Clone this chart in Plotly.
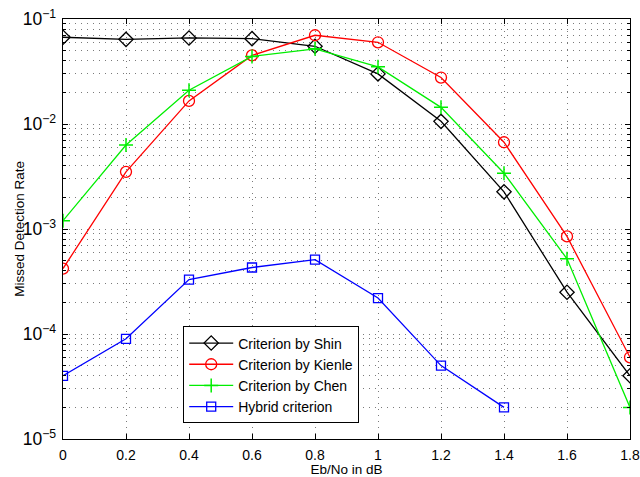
import plotly.graph_objects as go

x_vals = [0, 0.2, 0.4, 0.6, 0.8, 1.0, 1.2, 1.4, 1.6, 1.8]
shin = [0.067, 0.064, 0.066, 0.065, 0.055, 0.030, 0.0106, 0.00226, 0.00025, 0.00004]
kienle = [0.00042, 0.0035, 0.0166, 0.045, 0.070, 0.060, 0.0277, 0.0067, 0.00085, 0.00006]
chen = [0.0012, 0.0063, 0.021, 0.044, 0.052, 0.035, 0.0144, 0.0034, 0.00052, 0.00002]
hybrid_x = [0, 0.2, 0.4, 0.6, 0.8, 1.0, 1.2, 1.4]
hybrid = [0.00004, 0.00009, 0.00033, 0.00043, 0.00051, 0.00022, 0.00005, 0.00002]

x_ticks = [0, 0.2, 0.4, 0.6, 0.8, 1.0, 1.2, 1.4, 1.6, 1.8]
x_labels = ["0", "0.2", "0.4", "0.6", "0.8", "1", "1.2", "1.4", "1.6", "1.8"]

fig = go.Figure()
fig.add_trace(go.Scatter(x=x_vals, y=shin, mode="lines+markers", name="Criterion by Shin",
                         line=dict(color="black", width=1.3),
                         marker=dict(symbol="diamond-open", size=11, color="black", line=dict(width=1.3))))
fig.add_trace(go.Scatter(x=x_vals, y=kienle, mode="lines+markers", name="Criterion by Kienle",
                         line=dict(color="#ff0000", width=1.3),
                         marker=dict(symbol="circle-open", size=11, color="#ff0000", line=dict(width=1.3))))
fig.add_trace(go.Scatter(x=x_vals, y=chen, mode="lines+markers", name="Criterion by Chen",
                         line=dict(color="#00ee00", width=1.3),
                         marker=dict(symbol="cross-thin-open", size=10, color="#00ee00", line=dict(width=1.5, color="#00ee00"))))
fig.add_trace(go.Scatter(x=hybrid_x, y=hybrid, mode="lines+markers", name="Hybrid criterion",
                         line=dict(color="#0000ff", width=1.3),
                         marker=dict(symbol="square-open", size=9, color="#0000ff", line=dict(width=1.3))))

grid_color = "#7a7a7a"
grid_dash = "1px,5px"
fig.update_layout(
    width=640, height=477,
    margin=dict(l=63, r=10, t=19, b=38),
    paper_bgcolor="white", plot_bgcolor="white",
    font=dict(family="Liberation Sans, Arial, sans-serif", size=14, color="black"),
    showlegend=True,
    legend=dict(x=0.212, y=0.268, xanchor="left", yanchor="top",
                bgcolor="white", bordercolor="black", borderwidth=1,
                font=dict(size=14), tracegroupgap=0, itemwidth=44),
    xaxis=dict(range=[0, 1.8], tickvals=x_ticks, ticktext=x_labels,
               showline=True, linecolor="black", linewidth=1, mirror="ticks",
               ticks="inside", ticklen=5, tickcolor="black",
               showgrid=True, gridcolor=grid_color, griddash=grid_dash, gridwidth=1,
               zeroline=False, automargin=False, ticklabelstandoff=3,
               title=dict(text="Eb/No in dB", font=dict(size=13.5), standoff=6)),
    yaxis=dict(type="log", range=[-5, -1], dtick=1, exponentformat="power",
               showline=True, linecolor="black", linewidth=1, mirror="ticks",
               ticks="inside", ticklen=5, tickcolor="black",
               showgrid=True, gridcolor=grid_color, griddash=grid_dash, gridwidth=1,
               zeroline=False, automargin=False, ticklabelstandoff=3,
               minor=dict(dtick="D1", showgrid=True, gridcolor=grid_color, griddash=grid_dash,
                          ticks="inside", ticklen=3, tickcolor="black")),
    annotations=[dict(text="Missed Detection Rate", textangle=-90, showarrow=False,
                      xref="paper", yref="paper", x=-0.078, y=0.5,
                      xanchor="center", yanchor="middle", font=dict(size=13.5))],
)

fig.write_html("out.html")
